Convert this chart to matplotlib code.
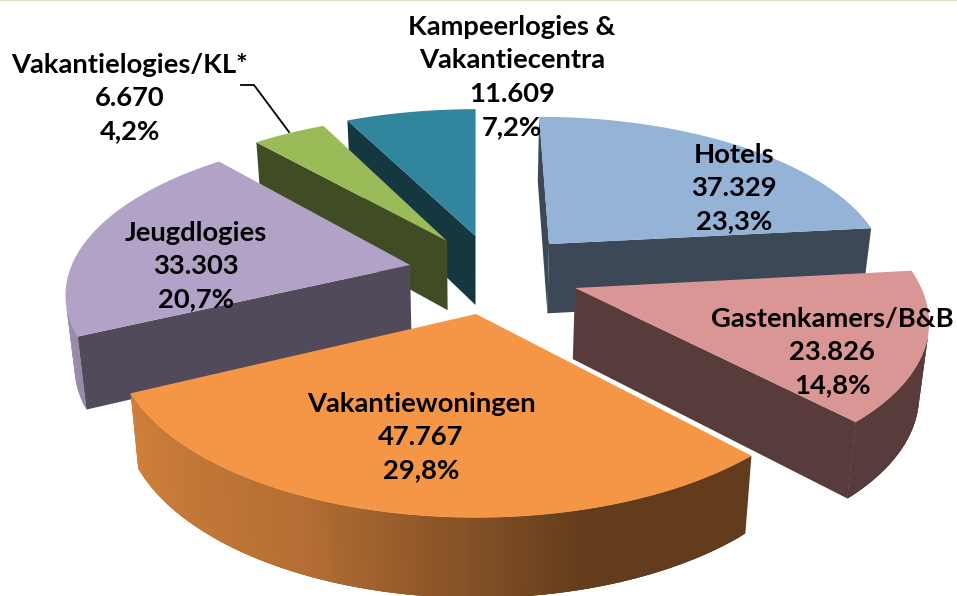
import numpy as np
import matplotlib
matplotlib.use("Agg")
import matplotlib.pyplot as plt
from matplotlib.patches import Polygon

# data (clockwise from 12 o'clock)
names = ["Hotels", "Gastenkamers/B&B", "Vakantiewoningen", "Jeugdlogies",
         "Vakantielogies/KL*", "Kampeerlogies &\nVakantiecentra"]
values = [37329, 23826, 47767, 33303, 6670, 11609]

# styles
top_colors = ["#95B3D7", "#D99694", "#F59646", "#B2A2C7", "#9BBB59", "#31859C"]
tips = [(549, 244), (575, 288), (476, 314), (410, 265), (447, 241), (475.5, 236)]
radii = [1.0, 1.0, 1.0, 1.0, 1.0, 1.015]
label_pos = [(734, 188), (832, 352), (421, 437), (196, 266), (130, 98), (512, 77)]
draw_order = [5, 4, 0, 3, 1, 2]
shade_t = [0, 137, 165, 180, 205, 245, 260, 360]
shade_v = [.40, .40, .40, .53, .74, .85, .90, .90]
radial_shade = [.40, .40, .40, .455, .41, .41]

# camera
VX, H, C, K, A = 476.0, -700.0, 970.0, 0.16, 340.0


def project(px, py):
    w = 1 + K * py
    return VX + A * px / w, H + C / w


def unproject(x, y):
    w = C / (y - H)
    return (x - VX) * w / A, (w - 1) / K


def drop(x, y):
    return VX + (x - VX) * 0.978, y + 69 + 0.04 * (y - 236)


def shaded(col, f):
    return tuple(min(1, c * f) for c in matplotlib.colors.to_rgb(col))


fig = plt.figure(figsize=(9.57, 5.96), dpi=100)
ax = fig.add_axes([0, 0, 1, 1])
ax.set_xlim(0, 957)
ax.set_ylim(596, 0)
ax.axis("off")
ax.axhspan(0, 1.2, color="#DDD8C2", lw=0, zorder=1)

vals = np.array(values, float)
fr = vals / vals.sum()
edges = np.concatenate([[0], np.cumsum(fr)]) * 360


def add_face(pts, color, z):
    ax.add_patch(Polygon(pts, closed=True, fc=color, ec="none", lw=0, zorder=z))


def front_facing(a, b, c):
    return (b[0] - a[0]) * (c[1] - a[1]) - (b[1] - a[1]) * (c[0] - a[0]) < 0


for rank, i in enumerate(draw_order):
    t0, t1 = edges[i], edges[i + 1]
    ts = np.linspace(t0, t1, max(8, int((t1 - t0) * 1.5)))
    cx, cy = unproject(*tips[i])
    r = radii[i]
    tr = np.radians(ts)
    rim = [project(cx + r * np.sin(a), cy + r * np.cos(a)) for a in tr]
    tip = project(cx, cy)
    rim_b = [drop(*p) for p in rim]
    tip_b = drop(*tip)
    z = 2 + rank * 3
    # curved wall: each strip overlaps the next one so no seams show
    n = len(ts)
    for j in range(n - 1):
        q = [rim[j], rim[j + 1], rim_b[j + 1], rim_b[j]]
        if front_facing(q[0], q[1], q[2]):
            k = min(j + 3, n - 1)
            f = np.interp((ts[j] + ts[j + 1]) / 2, shade_t, shade_v)
            add_face(rim[j:k + 1] + rim_b[j:k + 1][::-1],
                     shaded(top_colors[i], f), z)
    # radial walls
    q = [tip, rim[0], rim_b[0], tip_b]       # start edge
    if front_facing(q[0], q[1], q[2]):
        add_face(q, shaded(top_colors[i], radial_shade[i]), z + 1)
    q = [rim[-1], tip, tip_b, rim_b[-1]]     # end edge
    if front_facing(q[0], q[1], q[2]):
        add_face(q, shaded(top_colors[i], radial_shade[i]), z + 1)
    # top
    add_face([tip] + rim, top_colors[i], z + 2)

# leader line
ax.plot([241, 254, 289], [85, 85, 132], color="black", lw=1.3, zorder=40)

for i, (n, v) in enumerate(zip(names, values)):
    pct = f"{fr[i] * 100:.1f}".replace(".", ",")
    num = f"{v:,}".replace(",", ".")
    ax.text(*label_pos[i], f"{n}\n{num}\n{pct}%", family="Lato", weight="bold",
            fontsize=19.7, ha="center", va="center", linespacing=1.47,
            color="black", zorder=50)

fig.savefig("out.png", dpi=100)
